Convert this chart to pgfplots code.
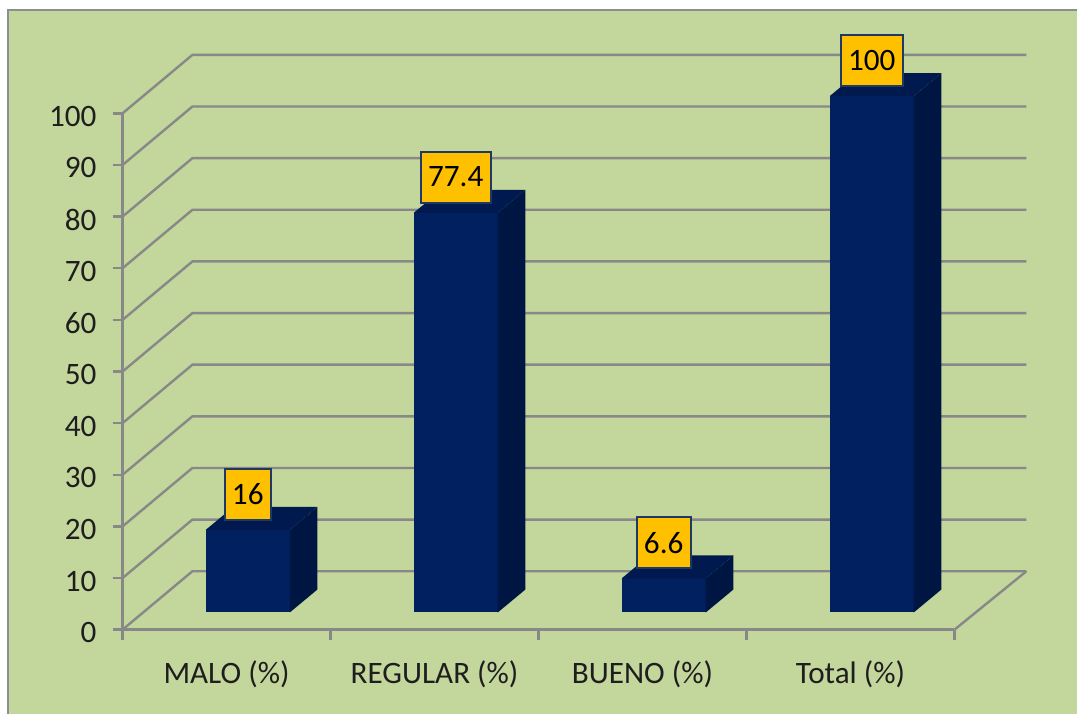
\documentclass[border=0pt]{standalone}
\usepackage{pgfplots}
\pgfplotsset{compat=1.18}
\usepackage{pgfplotstable}
\usepackage{fontspec}
\setmainfont{Carlito}
\definecolor{bg}{HTML}{C3D69B}
\definecolor{gridgray}{HTML}{888888}
\definecolor{framegray}{HTML}{8E8E8E}
\definecolor{barfront}{HTML}{002060}
\definecolor{barside}{HTML}{001642}
\definecolor{bartop}{HTML}{001A4F}
\definecolor{lblfill}{HTML}{FFC000}
\definecolor{lbldraw}{HTML}{1F3864}
\definecolor{txt}{HTML}{1E1E1E}

\pgfplotstableread{
x v
0 16
1 77.4
2 6.6
3 100
}\data

\pgfplotstableread{
a b
0 0
1 0
1 1
0 1
}\corners

% #1 = category position, #2 = value
\newcommand{\threedbar}[2]{%
  \addplot[draw=none, fill=barfront] table[x expr={#1-0.100+0.404*\thisrow{a}}, y expr={3.33+#2*\thisrow{b}}] {\corners};
  \addplot[draw=none, fill=barside] table[x expr={#1+0.304+0.133*\thisrow{a}}, y expr={3.33+4.45*\thisrow{a}+#2*\thisrow{b}}] {\corners};
  \addplot[draw=none, fill=bartop] table[x expr={#1-0.100+0.404*\thisrow{a}+0.133*\thisrow{b}}, y expr={3.33+#2+4.45*\thisrow{b}}] {\corners};
}

\begin{document}
\begin{tikzpicture}
\fill[white] (-61.35pt,-42.25pt) rectangle (477.65pt,315.25pt);
\fill[bg] (-57.35pt,-42.25pt) rectangle (477.65pt,310.25pt);
\draw[framegray, line width=1.4pt] (-57.35pt,-42.25pt) -- (-57.35pt,310.25pt) -- (477.65pt,310.25pt);
\begin{axis}[
  x=104.125pt, y=2.585pt,
  xmin=-0.5, xmax=3.5, ymin=0, ymax=100,
  clip=false,
  axis x line*=bottom, axis y line*=left,
  axis line style={gridgray, line width=1.2pt},
  tick align=outside, major tick length=5pt,
  tick style={gridgray, line width=1.2pt},
  ytick={0,10,...,100},
  xtick={-0.5,0.5,1.5,2.5,3.5},
  xticklabels={,,,,},
  extra x ticks={0,1,2,3},
  extra x tick labels={MALO (\%), REGULAR (\%), BUENO (\%), Total (\%)},
  extra x tick style={tick style={draw=none}},
  /pgf/number format/assume math mode=true,
  tick label style={font=\fontsize{15.6}{18}\selectfont, text=txt},
  yticklabel style={xshift=-4.5pt, yshift=-1.5pt},
  xticklabel style={yshift=-7pt},
]
\draw[gridgray, line width=1.2pt] (axis cs:3.5,0) -- (axis cs:3.846,11.32);
\draw[gridgray, line width=1.2pt] (axis cs:-0.5,0) -- (axis cs:-0.164,11.32) -- (axis cs:3.846,11.32);
\draw[gridgray, line width=1.2pt] (axis cs:-0.5,10) -- (axis cs:-0.164,21.32) -- (axis cs:3.846,21.32);
\draw[gridgray, line width=1.2pt] (axis cs:-0.5,20) -- (axis cs:-0.164,31.32) -- (axis cs:3.846,31.32);
\draw[gridgray, line width=1.2pt] (axis cs:-0.5,30) -- (axis cs:-0.164,41.32) -- (axis cs:3.846,41.32);
\draw[gridgray, line width=1.2pt] (axis cs:-0.5,40) -- (axis cs:-0.164,51.32) -- (axis cs:3.846,51.32);
\draw[gridgray, line width=1.2pt] (axis cs:-0.5,50) -- (axis cs:-0.164,61.32) -- (axis cs:3.846,61.32);
\draw[gridgray, line width=1.2pt] (axis cs:-0.5,60) -- (axis cs:-0.164,71.32) -- (axis cs:3.846,71.32);
\draw[gridgray, line width=1.2pt] (axis cs:-0.5,70) -- (axis cs:-0.164,81.32) -- (axis cs:3.846,81.32);
\draw[gridgray, line width=1.2pt] (axis cs:-0.5,80) -- (axis cs:-0.164,91.32) -- (axis cs:3.846,91.32);
\draw[gridgray, line width=1.2pt] (axis cs:-0.5,90) -- (axis cs:-0.164,101.32) -- (axis cs:3.846,101.32);
\draw[gridgray, line width=1.2pt] (axis cs:-0.5,100) -- (axis cs:-0.164,111.32) -- (axis cs:3.846,111.32);

\threedbar{0}{16}
\threedbar{1}{77.4}
\threedbar{2}{6.6}
\threedbar{3}{100}

\addplot[only marks, mark=none, nodes near coords, point meta=explicit symbolic,
  nodes near coords style={anchor=south, fill=lblfill, draw=lbldraw, line width=1pt,
    minimum height=25.5pt, inner xsep=3.6pt, inner ysep=0pt, text=black,
    font=\fontsize{15.6}{18}\selectfont}]
  table[x expr={\thisrow{x}+0.102}, y expr={\thisrow{v}+3.33+1.8}, meta=v] {\data};
\end{axis}
\end{tikzpicture}
\end{document}
